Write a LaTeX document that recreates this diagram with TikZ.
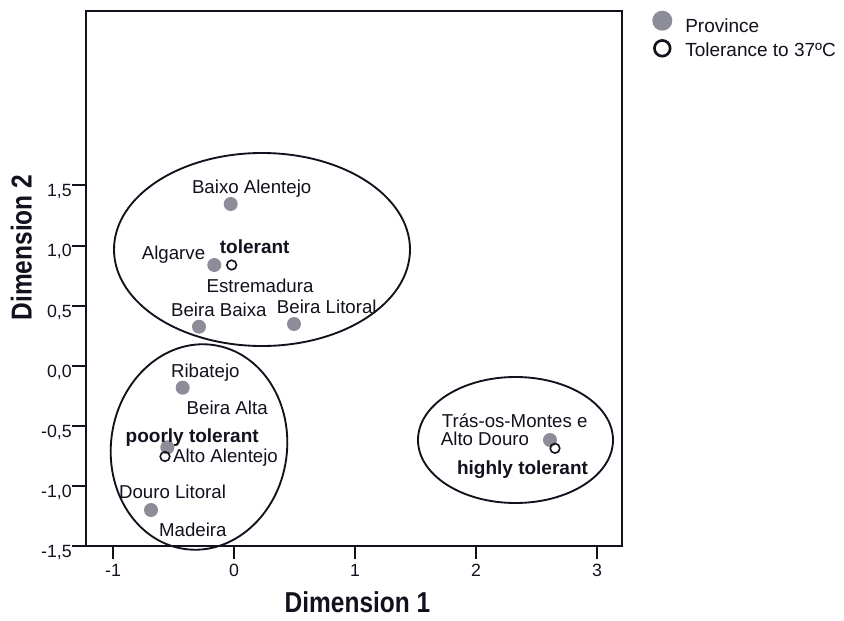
\documentclass[tikz,border=0pt]{standalone}
\usepackage{fontspec}
\setmainfont{Liberation Sans}
\newfontfamily\titlefont[FakeStretch=0.85]{Liberation Sans}
\definecolor{dotgrey}{RGB}{140,141,153}
\definecolor{ink}{RGB}{18,18,30}
\begin{document}
\begin{tikzpicture}[x=0.75pt,y=-0.75pt,
  pdot/.style={circle,fill=dotgrey,inner sep=0pt,minimum size=10.5pt},
  tcirc/.style={circle,draw=ink,line width=1.2pt,inner sep=0pt,minimum size=7.2pt},
  lab/.style={font=\fontsize{14}{16}\selectfont,inner sep=0pt,text=ink,anchor=base},
  blab/.style={font=\bfseries\fontsize{14.25}{16}\selectfont,inner sep=0pt,text=ink,anchor=base},
  ticklab/.style={font=\fontsize{13.3}{15}\selectfont,inner sep=0pt,text=ink},
  leglab/.style={font=\fontsize{14.25}{16}\selectfont,inner sep=0pt,text=ink,anchor=base west},
  axtitle/.style={font=\titlefont\bfseries\fontsize{21.6}{24}\selectfont,inner sep=0pt,text=ink,anchor=base},
  frameline/.style={draw=ink,line width=1.5pt},
  ringline/.style={draw=ink,line width=1.4pt}]
\useasboundingbox (0,0) rectangle (844,621);
\fill[white] (0,0) rectangle (844,621);

% frame
\draw[frameline] (86,11) rectangle (622,546);

% y ticks
\foreach \v/\t/\n in {185/{1,5}/a,245.5/{1,0}/b,306/{0,5}/c,366/{0,0}/d,426/{-0,5}/e,486/{-1,0}/f,546/{-1,5}/g}{
  \coordinate (yt\n) at (86,\v);
  \coordinate (ys\n) at (72,\v);
  \draw[frameline] (yt\n) -- (ys\n);
  \node[ticklab,anchor=base east] (yl\n) at (72,\v+11) {\t};
}
% x ticks
\foreach \u/\t/\n in {113/-1/a,234/0/b,355/1/c,476/2/d,597/3/e}{
  \coordinate (xt\n) at (\u,546);
  \coordinate (xs\n) at (\u,559);
  \draw[frameline] (xt\n) -- (xs\n);
  \node[ticklab,anchor=base] (xl\n) at (\u,576.5) {\t};
}

% axis titles
\node[axtitle] (dim1) at (357.5,612.5) {Dimension 1};
\node[axtitle,rotate=90] (dim2) at (31.5,247.5) {Dimension 2};

% cluster ellipses
\coordinate (e1) at (262,249.5);
\coordinate (e2) at (199,447);
\coordinate (e3) at (515.5,440);
\draw[ringline] (e1) ellipse [x radius=148,y radius=96.5];
\draw[ringline,rotate around={-8:(e2)}] (e2) ellipse [x radius=88,y radius=103];
\draw[ringline] (e3) ellipse [x radius=97.5,y radius=63];

% province dots
\node[pdot] (d1) at (230.7,204) {};
\node[pdot] (d2) at (214.3,265) {};
\node[pdot] (d3) at (199,326.7) {};
\node[pdot] (d4) at (294,324) {};
\node[pdot] (d5) at (182.7,387.7) {};
\node[pdot] (d6) at (167.3,447.3) {};
\node[pdot] (d7) at (151,510) {};
\node[pdot] (d8) at (550,440) {};

% tolerance circles
\node[tcirc] (c1) at (231.7,265) {};
\node[tcirc] (c2) at (165,456.5) {};
\node[tcirc] (c3) at (555,448.3) {};

% labels
\node[lab] (lBA) at (251.7,193) {Baixo Alentejo};
\node[lab] (lAlg) at (173.5,259.5) {Algarve};
\node[blab] (lTol) at (254.7,253) {tolerant};
\node[lab] (lEst) at (260,292) {Estremadura};
\node[lab] (lBB) at (218.8,316) {Beira Baixa};
\node[lab] (lBL) at (326.8,313.5) {Beira Litoral};
\node[lab] (lRib) at (205.3,377.5) {Ribatejo};
\node[lab] (lBAl) at (227.2,414.5) {Beira Alta};
\node[blab] (lPoor) at (192.2,442.5) {poorly tolerant};
\node[lab] (lAA) at (225.5,462.5) {Alto Alentejo};
\node[lab] (lDL) at (172.5,498.5) {Douro Litoral};
\node[lab] (lMad) at (192.8,536.5) {Madeira};
\node[lab] (lTM) at (514.7,427.5) {Trás-os-Montes e};
\node[lab] (lAD) at (485,445) {Alto Douro};
\node[blab] (lHigh) at (522.5,474) {highly tolerant};

% legend
\node[circle,fill=dotgrey,inner sep=0pt,minimum size=15pt] (legdot) at (662.3,20.7) {};
\node[circle,draw=ink,line width=2pt,inner sep=0pt,minimum size=11.8pt] (legcirc) at (662.3,48.3) {};
\node[leglab] (legp) at (685,32) {Province};
\node[leglab] (legt) at (685,56.5) {Tolerance to 37ºC};
\end{tikzpicture}
\end{document}
